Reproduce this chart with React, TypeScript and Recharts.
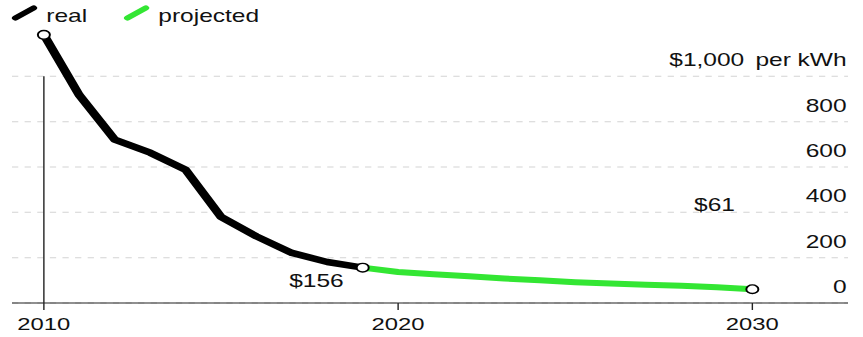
import React from 'react'
import { LineChart, Line, XAxis, YAxis, CartesianGrid, ReferenceLine } from 'recharts'

// battery pack price, $ per kWh
const realYears = [2010, 2011, 2012, 2013, 2014, 2015, 2016, 2017, 2018, 2019]
const realPrices = [1183, 917, 721, 663, 588, 380, 294, 221, 181, 156]
const projectedYears = [2019, 2020, 2021, 2022, 2023, 2024, 2025, 2026, 2027, 2028, 2029, 2030]
const projectedPrices = [156, 137, 127, 118, 108, 100, 92, 86, 81, 76, 69, 61]

const xTicks = [2010, 2020, 2030]
const yTicks = [0, 200, 400, 600, 800, 1000]

const seriesNames = ['real', 'projected']
const seriesColors = ['#000000', '#33e633']

// the chart is laid out narrow and stretched sideways
const CHART_W = 616
const CHART_H = 337
const SCALE = 863 / CHART_W
const Y_AXIS_W = 1
const MARGIN = { top: 31, right: 15 / SCALE - Y_AXIS_W, bottom: 0, left: 12 / SCALE }
const PLOT_RIGHT = CHART_W - 15 / SCALE
const FONT = '"Liberation Sans", Arial, Helvetica, sans-serif'
const INK = '#111'

const years = Array.from(new Set([...realYears, ...projectedYears])).sort((a, b) => a - b)
const data = years.map((year) => {
  const ri = realYears.indexOf(year)
  const pi = projectedYears.indexOf(year)
  return {
    year,
    real: ri >= 0 ? realPrices[ri] : null,
    projected: pi >= 0 ? projectedPrices[pi] : null,
  }
})

const lastReal = realYears.length - 1
const lastProjected = years.indexOf(projectedYears[projectedYears.length - 1])

const renderYTick = (props: any) => {
  const { y, payload, index } = props
  return (
    <text key={`yt-${index}`} x={PLOT_RIGHT - 1} y={y - 10} textAnchor="end" fontSize={17.5} fontFamily={FONT} fill={INK}>
      {payload.value === 1000 ? (
        <>
          $1,000<tspan dx={8}>per kWh</tspan>
        </>
      ) : (
        payload.value
      )}
    </text>
  )
}

const makeDot = (show: number[]) => (props: any) => {
  const { cx, cy, index } = props
  if (!show.includes(index) || cy == null) return <g key={`d-${index}`} />
  return <circle key={`d-${index}`} cx={cx} cy={cy} r={4.3} fill="#fff" stroke="#000" strokeWidth={1.4} />
}

const makeLabel = (at: number, dx: number, dy: number) => (props: any) => {
  const { x, y, value, index } = props
  if (index !== at || value == null) return null
  return (
    <text key={`l-${index}`} x={x + dx} y={y + dy} textAnchor="middle" fontSize={17.5} fontFamily={FONT} fill={INK}>
      ${value}
    </text>
  )
}

const Legend = () => (
  <svg width={CHART_W} height={30} style={{ position: 'absolute', left: 0, top: 0 }}>
    {seriesNames.map((name, i) => {
      const x0 = i === 0 ? 11 : 91
      return (
        <g key={name}>
          <line x1={x0} y1={18} x2={x0 + 13} y2={8} stroke={seriesColors[i]} strokeWidth={5} strokeLinecap="round" />
          <text x={x0 + 22} y={22} fontSize={17.5} fontFamily={FONT} fill={INK}>{name}</text>
        </g>
      )
    })}
  </svg>
)

export default function App() {
  return (
    <div style={{ position: 'absolute', left: 0, top: 0, width: 863, height: CHART_H, overflow: 'hidden', background: '#fff' }}>
      <div style={{ position: 'relative', width: CHART_W, height: CHART_H, transform: `scaleX(${SCALE})`, transformOrigin: '0 0' }}>
        <LineChart width={CHART_W} height={CHART_H} data={data} margin={MARGIN}>
          <CartesianGrid
            vertical={false}
            stroke="#d4d4d4"
            strokeDasharray="4.5 4.5"
            horizontalValues={yTicks}
          />
          <XAxis
            dataKey="year"
            type="number"
            domain={[2009.1, 2032.7]}
            ticks={xTicks}
            height={34}
            tickSize={7}
            tickMargin={8}
            stroke="#222"
            tick={{ fontSize: 17, fontFamily: FONT, fill: INK }}
          />
          <YAxis
            orientation="right"
            width={Y_AXIS_W}
            type="number"
            domain={[0, 1200]}
            ticks={yTicks}
            interval={0}
            axisLine={false}
            tickLine={false}
            tick={renderYTick}
          />
          <ReferenceLine segment={[{ x: 2010, y: 0 }, { x: 2010, y: 1000 }]} stroke="#222" strokeWidth={1} />
          <Line
            dataKey="projected"
            stroke={seriesColors[1]}
            strokeWidth={6}
            strokeLinejoin="round"
            dot={makeDot([lastProjected])}
            label={makeLabel(lastProjected, -27, -78)}
            isAnimationActive={false}
          />
          <Line
            dataKey="real"
            stroke={seriesColors[0]}
            strokeWidth={6.5}
            strokeLinejoin="round"
            dot={makeDot([0, lastReal])}
            label={makeLabel(lastReal, -33, 19)}
            isAnimationActive={false}
          />
        </LineChart>
        <Legend />
      </div>
    </div>
  )
}
